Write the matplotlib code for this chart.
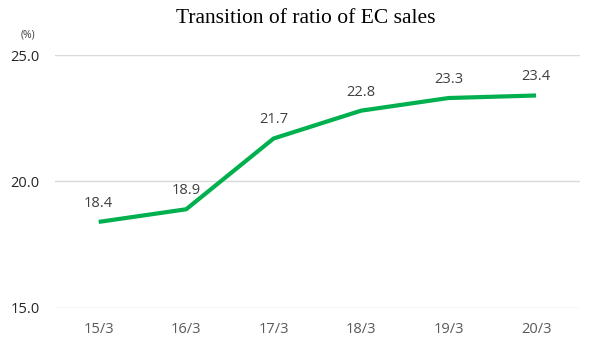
import matplotlib
matplotlib.use('Agg')
import matplotlib.pyplot as plt

periods = ['15/3', '16/3', '17/3', '18/3', '19/3', '20/3']
ec_ratio = [18.4, 18.9, 21.7, 22.8, 23.3, 23.4]
y_ticks = [15.0, 20.0, 25.0]

plt.rcParams['font.family'] = ['Open Sans', 'DejaVu Sans']

fig = plt.figure(figsize=(5.91, 3.44), dpi=100)
ax = fig.add_axes([0.093, 0.105, 0.888, 0.735])

x = list(range(len(periods)))
ax.plot(x, ec_ratio, color='#00b04f', linewidth=3.0, solid_capstyle='butt', zorder=3)

for xi, v in zip(x, ec_ratio):
    ax.annotate(f'{v:.1f}', (xi, v), xytext=(0, 8), textcoords='offset points',
                ha='center', va='bottom', fontsize=10.5, color='#404040')

ax.set_xlim(-0.5, len(periods) - 0.5)
ax.set_ylim(15, 25)
ax.set_xticks(x)
ax.set_xticklabels(periods)
ax.set_yticks(y_ticks)
ax.set_yticklabels([f'{t:.1f}' for t in y_ticks])
ax.tick_params(axis='x', length=0, pad=10, labelsize=10.5, labelcolor='#595959')
ax.tick_params(axis='y', length=0, pad=11, labelsize=10.5, labelcolor='#262626')

ax.grid(axis='y', color='#d9d9d9', linewidth=1.0)
ax.set_axisbelow(True)
for s in ax.spines.values():
    s.set_visible(False)

fig.text(0.048, 0.89, '(%)', fontsize=7.5, color='#404040', ha='center')
fig.text(0.518, 0.945, 'Transition of ratio of EC sales', fontsize=15.5,
         family='Liberation Serif', ha='center', va='center', color='black')

fig.savefig('out.png', dpi=100)
